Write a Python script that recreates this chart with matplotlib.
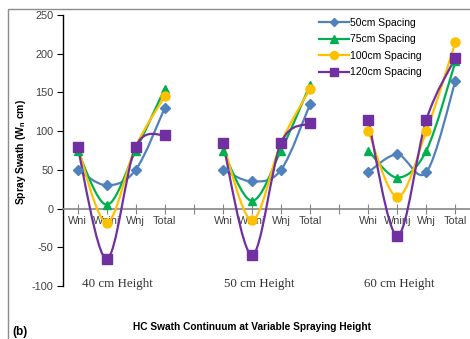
import matplotlib
matplotlib.use("Agg")
import matplotlib.pyplot as plt
from matplotlib.path import Path
from matplotlib.patches import PathPatch, Rectangle
from matplotlib.lines import Line2D

plt.rcParams["font.family"] = ["Liberation Sans", "DejaVu Sans"]
plt.rcParams["axes.unicode_minus"] = False

# category axis: three height groups separated by an empty slot
categories = ["Wni", "Wninj", "Wnj", "Total", "",
              "Wni", "Wninj", "Wnj", "Total", "",
              "Wni", "Wninj", "Wnj", "Total"]
group_names = ["40 cm Height", "50 cm Height", "60 cm Height"]
group_starts = [0, 5, 10]

series_names = ["50cm Spacing", "75cm Spacing", "100cm Spacing", "120cm Spacing"]
# values per group: [Wni, Wninj, Wnj, Total]
spacing_50 = [[50, 30, 50, 130], [50, 35, 50, 135], [47, 70, 47, 165]]
spacing_75 = [[75, 5, 75, 155], [75, 10, 75, 160], [75, 40, 75, 190]]
spacing_100 = [[80, -18, 80, 145], [85, -15, 85, 155], [100, 15, 100, 215]]
spacing_120 = [[80, -65, 80, 95], [85, -60, 85, 110], [115, -35, 115, 195]]

colors = ["#4F81BD", "#00B050", "#FFC000", "#7030A0"]
markers = ["D", "^", "o", "s"]
msizes = [5, 6, 6.5, 7]


def smooth_path(xs, ys):
    # Excel style smoothed line: cubic Bezier through each point
    n = len(xs)
    verts = [(xs[0], ys[0])]
    codes = [Path.MOVETO]
    for i in range(n - 1):
        x0, y0 = (xs[i - 1], ys[i - 1]) if i > 0 else (xs[i], ys[i])
        x1, y1 = xs[i], ys[i]
        x2, y2 = xs[i + 1], ys[i + 1]
        x3, y3 = (xs[i + 2], ys[i + 2]) if i + 2 < n else (x2, y2)
        c1 = (x1 + (x2 - x0) / 6, y1 + (y2 - y0) / 6)
        c2 = (x2 - (x3 - x1) / 6, y2 - (y3 - y1) / 6)
        verts += [c1, c2, (x2, y2)]
        codes += [Path.CURVE4] * 3
    return Path(verts, codes)


fig = plt.figure(figsize=(4.7, 3.39), dpi=100)
ax = fig.add_axes([63 / 470, 1 - 286 / 339, 1 - 63 / 470, 271 / 339])

all_series = [spacing_50, spacing_75, spacing_100, spacing_120]
for k, data in enumerate(all_series):
    for g, start in enumerate(group_starts):
        xs = list(range(start, start + 4))
        ys = data[g]
        ax.add_patch(PathPatch(smooth_path(xs, ys), fill=False,
                               edgecolor=colors[k], lw=1.6, zorder=2 + k))
        ax.plot(xs, ys, linestyle="none", marker=markers[k], ms=msizes[k],
                color=colors[k], zorder=6 + k)

ax.set_xlim(-0.5, len(categories) - 0.5)
ax.set_ylim(-100, 250)
ax.set_yticks(range(-100, 251, 50))
ax.set_xticks(range(len(categories)))
ax.set_xticklabels(categories)

for s in ["top", "right"]:
    ax.spines[s].set_visible(False)
ax.spines["bottom"].set_position(("data", 0))
ax.spines["bottom"].set_color("#868686")
ax.spines["bottom"].set_linewidth(1.2)
ax.spines["left"].set_color("black")
ax.spines["left"].set_linewidth(1.0)
ax.tick_params(axis="y", direction="out", length=4, labelsize=7.8,
               labelcolor="#404040", pad=3)
ax.tick_params(axis="x", direction="inout", length=7, color="#868686",
               labelsize=7.8, labelcolor="#404040", pad=2)

ax.set_ylabel("Spray Swath (W$_\\mathregular{n}$ cm)", fontsize=7.5,
              fontweight="bold")
ax.yaxis.set_label_coords(-0.086, 0.494)

group_x = [1.36, 6.25, 11.05]
for gx, name in zip(group_x, group_names):
    ax.text(gx, -97, name, ha="center", va="center", fontsize=9.4,
            family=["Liberation Serif", "DejaVu Serif"], color="#333333")

handles = [Line2D([], [], color=c, marker=m, ms=ms * 0.9, lw=1.6)
           for c, m, ms in zip(colors, markers, msizes)]
fig.legend(handles, series_names, loc="upper left",
           bbox_to_anchor=(319 / 470, 1 - 18 / 339), frameon=False,
           fontsize=7.5, handlelength=2.9, handletextpad=0.1,
           labelspacing=0.62, borderpad=0, borderaxespad=0)

fig.text(252 / 470, 1 - 327 / 339, "HC Swath Continuum at Variable Spraying Height",
         ha="center", va="center", fontsize=7.3, fontweight="bold")
fig.text(12 / 470, 1 - 332 / 339, "(b)", ha="left", va="center",
         fontsize=8.5, fontweight="bold")

fig.patches.append(Rectangle((8 / 470, -0.2), 1.2, 1.2 + (1 - 9 / 339) - 1,
                             transform=fig.transFigure, fill=False,
                             edgecolor="#8c8c8c", lw=1.0))

fig.savefig("out.png", dpi=100)
